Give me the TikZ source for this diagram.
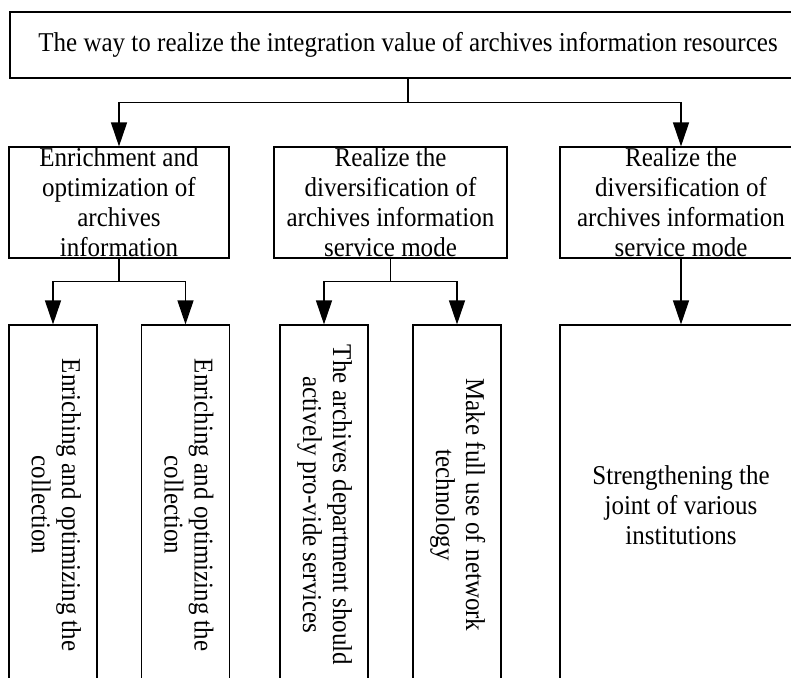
\documentclass[tikz,border=0pt]{standalone}
\usepackage{fontspec}
\setmainfont{Liberation Serif}[FakeStretch=0.92]
\usetikzlibrary{arrows.meta}

\begin{document}
\begin{tikzpicture}[x=0.5pt,y=-0.5pt,line width=0.6pt,
  box/.style={draw,rectangle,inner sep=0pt,align=center,
    font=\fontsize{13.6pt}{15pt}\selectfont},
  arr/.style={-{Triangle[length=12pt,width=8pt]}}]
  \path[use as bounding box,clip] (0,0) rectangle (791,677) ; %picture frame
  % top level
  \node[box,minimum width=398pt,minimum height=33pt] (way) at (408,45)
    {The way to realize the integration value of archives information resources};
  % second level
  \node[box,minimum width=110pt,minimum height=55.5pt] (enrich) at (119,202.5)
    {Enrichment and\\optimization of\\archives\\information};
  \node[box,minimum width=116.5pt,minimum height=55.5pt] (divers) at (390.5,202.5)
    {Realize the\\diversification of\\archives information\\service mode};
  \node[box,minimum width=121pt,minimum height=55.5pt] (mode) at (681,202.5)
    {Realize the\\diversification of\\archives information\\service mode};
  % third level, boxes run past the lower edge
  \node[box,minimum width=44pt,minimum height=180pt] (coll1) at (53,505)
    {\rotatebox{-90}{\begin{tabular}{@{}c@{}}Enriching and optimizing the\\collection\end{tabular}}};
  \node[box,minimum width=44pt,minimum height=180pt] (coll2) at (185.5,505)
    {\rotatebox{-90}{\begin{tabular}{@{}c@{}}Enriching and optimizing the\\collection\end{tabular}}};
  \node[box,minimum width=44pt,minimum height=180pt] (serv) at (324,505)
    {\rotatebox{-90}{\begin{tabular}{@{}c@{}}The archives department should\\actively pro-vide services\end{tabular}}};
  \node[box,minimum width=44pt,minimum height=180pt] (net) at (457,505)
    {\rotatebox{-90}{\begin{tabular}{@{}c@{}}Make full use of network\\technology\end{tabular}}};
  \node[box,minimum width=121pt,minimum height=180pt] (joint) at (681,505)
    {Strengthening the\\joint of various\\institutions};
  % connectors
  \path (way.south) ++(0,24) coordinate (j0) ;
  \path (enrich.south) ++(0,23) coordinate (j1) ;
  \path (divers.south) ++(0,23) coordinate (j2) ;
  \draw (way.south) -- (j0) ;
  \draw[arr] (j0) -| (enrich.north) ;
  \draw[arr] (j0) -| (mode.north) ;
  \draw (enrich.south) -- (j1) ;
  \draw[arr] (j1) -| (coll1.north) ;
  \draw[arr] (j1) -| (coll2.north) ;
  \draw (divers.south) -- (j2) ;
  \draw[arr] (j2) -| (serv.north) ;
  \draw[arr] (j2) -| (net.north) ;
  \draw[arr] (mode.south) -- (joint.north) ;
\end{tikzpicture}
\end{document}
